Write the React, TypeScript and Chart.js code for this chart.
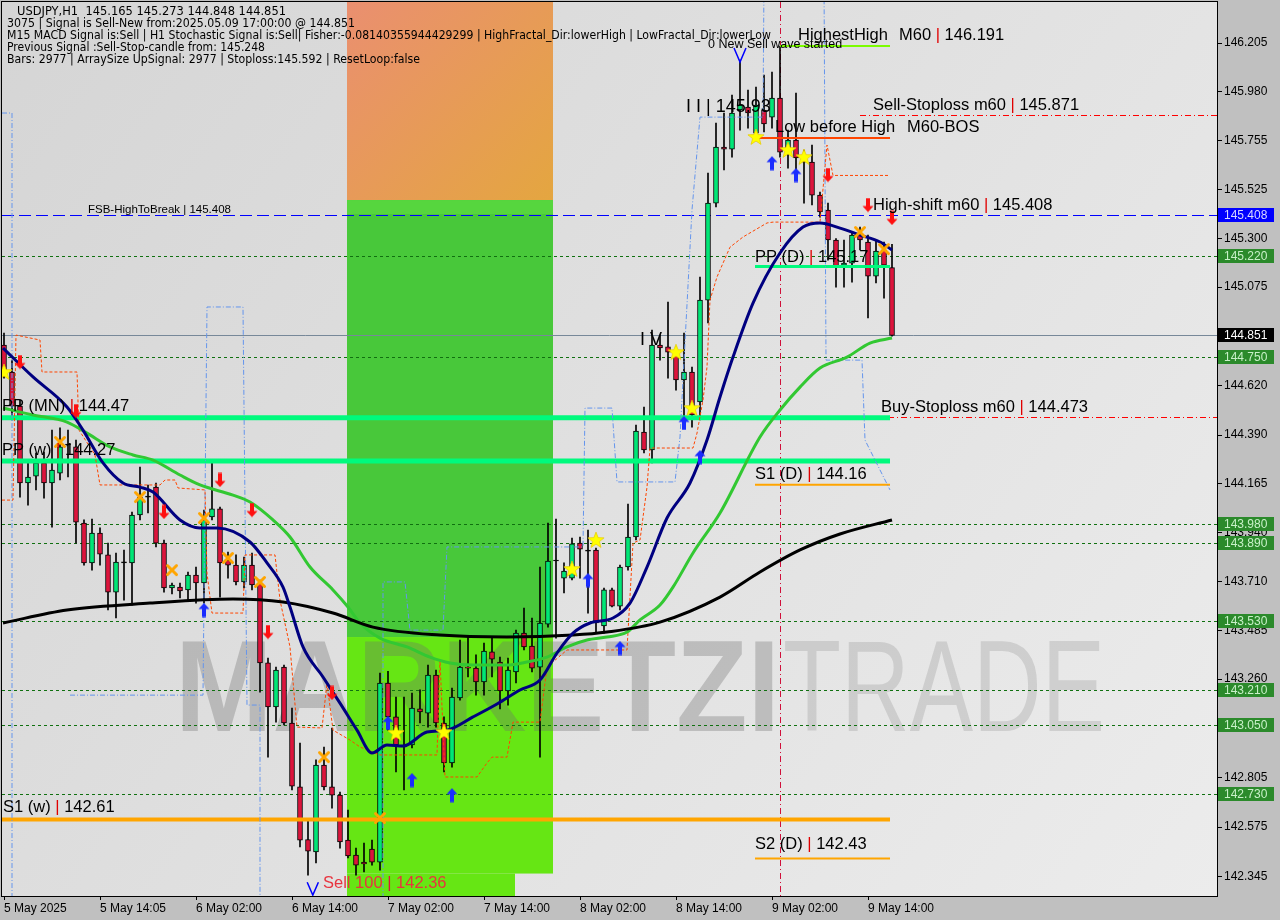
import React, { useEffect, useRef } from "react";
import { Chart, registerables } from "chart.js";

Chart.register(...registerables);

// ---------------- data ----------------
const timeTickIndex = [0, 12, 24, 36, 48, 60, 72, 84, 96, 108];
const timeTickLabels = ["5 May 2025", "5 May 14:05", "6 May 02:00", "6 May 14:00", "7 May 02:00", "7 May 14:00", "8 May 02:00", "8 May 14:00", "9 May 02:00", "9 May 14:00"];
const priceTicks = [146.205, 145.98, 145.755, 145.525, 145.3, 145.075, 144.62, 144.39, 144.165, 143.94, 143.71, 143.485, 143.26, 143.03, 142.805, 142.575, 142.345];

const opens = [
  144.807, 144.682, 144.524, 144.168, 144.2, 144.261, 144.168, 144.214, 144.344, 144.335,
  143.983, 143.798, 143.936, 143.835, 143.663, 143.802, 143.798, 144.02, 144.103, 144.149,
  143.89, 143.682, 143.686, 143.673, 143.742, 143.705, 144.011, 144.048, 143.811, 143.788,
  143.71, 143.788, 143.705, 143.335, 143.131, 143.316, 143.057, 142.761, 142.517, 142.46,
  142.862, 142.761, 142.723, 142.515, 142.446, 142.413, 142.473, 142.413, 143.242, 143.085,
  142.955, 142.955, 143.122, 143.103, 143.279, 143.057, 142.872, 143.173, 143.316, 143.311,
  143.247, 143.386, 143.339, 143.205, 143.293, 143.473, 143.413, 143.316, 143.515, 143.807,
  143.728, 143.728, 143.89, 143.853, 143.858, 143.506, 143.673, 143.598, 143.779, 143.918,
  144.404, 144.321, 144.807, 144.798, 144.774, 144.645, 144.682, 144.543, 145.015, 145.464,
  145.723, 145.714, 145.895, 145.909, 145.788, 145.895, 145.862, 145.95, 145.71, 145.756,
  145.673, 145.654, 145.501, 145.432, 145.293, 145.177, 145.186, 145.316, 145.284, 145.126,
  145.247, 145.165,
];
const highs = [
  144.862, 144.737, 144.552, 144.274, 144.307, 144.311, 144.413, 144.423, 144.413, 144.367,
  143.997, 144.001, 143.96, 143.89, 143.844, 143.858, 144.034, 144.242, 144.159, 144.168,
  143.904, 143.705, 143.705, 143.756, 143.779, 144.043, 144.261, 144.057, 143.848, 143.835,
  143.825, 143.844, 143.719, 143.358, 143.316, 143.325, 143.126, 142.964, 142.608, 142.886,
  142.946, 143.034, 142.737, 142.654, 142.478, 142.501, 142.515, 143.288, 143.296, 143.177,
  143.177, 143.196, 143.21, 143.325, 143.302, 143.085, 143.219, 143.441, 143.455, 143.372,
  143.427, 143.455, 143.362, 143.358, 143.487, 143.589, 143.543, 143.779, 143.983, 144.001,
  143.798, 143.913, 143.918, 143.95, 143.867, 143.682, 143.682, 143.788, 144.071, 144.436,
  144.52, 144.876, 144.853, 145.006, 144.798, 144.862, 144.705, 145.122, 145.603, 145.835,
  145.881, 145.964, 146.126, 145.987, 146.001, 146.057, 146.071, 146.191, 145.802, 145.973,
  145.71, 145.733, 145.515, 145.464, 145.3, 145.293, 145.325, 145.353, 145.316, 145.293,
  145.284, 145.273,
];
const lows = [
  144.654, 144.46, 144.103, 144.066, 144.136, 144.098, 143.964, 144.182, 144.196, 143.89,
  143.788, 143.765, 143.788, 143.58, 143.543, 143.626, 143.603, 143.997, 144.029, 143.872,
  143.663, 143.654, 143.636, 143.626, 143.612, 143.612, 143.997, 143.64, 143.728, 143.696,
  143.682, 143.673, 143.2, 142.899, 143.061, 143.048, 142.747, 142.483, 142.353, 142.409,
  142.747, 142.663, 142.478, 142.432, 142.353, 142.367, 142.399, 142.376, 143.024, 142.83,
  142.747, 142.941, 143.057, 143.038, 143.038, 142.83, 142.853, 143.163, 143.27, 143.186,
  143.186, 143.27, 143.122, 143.14, 143.242, 143.395, 143.293, 142.899, 143.501, 143.45,
  143.659, 143.719, 143.728, 143.566, 143.473, 143.473, 143.594, 143.58, 143.765, 143.904,
  144.307, 144.261, 144.737, 144.654, 144.598, 144.446, 144.427, 144.46, 144.909, 145.446,
  145.617, 145.677, 145.802, 145.811, 145.756, 145.793, 145.811, 145.677, 145.626, 145.617,
  145.464, 145.455, 145.399, 145.2, 145.075, 145.075, 145.098, 145.247, 144.932, 145.094,
  145.024, 144.848,
];
const closes = [
  144.682, 144.524, 144.168, 144.196, 144.261, 144.168, 144.228, 144.335, 144.344, 143.987,
  143.798, 143.936, 143.839, 143.663, 143.802, 143.798, 144.02, 144.103, 144.103, 143.89,
  143.682, 143.696, 143.668, 143.742, 143.705, 143.997, 144.048, 143.798, 143.788, 143.71,
  143.788, 143.696, 143.335, 143.131, 143.302, 143.057, 142.765, 142.515, 142.464, 142.862,
  142.761, 142.723, 142.506, 142.441, 142.399, 142.404, 142.413, 143.242, 143.085, 142.955,
  142.946, 143.126, 143.108, 143.279, 143.057, 142.872, 143.177, 143.316, 143.311, 143.247,
  143.39, 143.353, 143.205, 143.302, 143.473, 143.409, 143.311, 143.52, 143.807, 143.807,
  143.76, 143.886, 143.862, 143.853, 143.52, 143.673, 143.598, 143.779, 143.918, 144.409,
  144.321, 144.807, 144.793, 144.774, 144.645, 144.682, 144.483, 145.015, 145.464, 145.723,
  145.714, 145.881, 145.918, 145.881, 145.918, 145.83, 145.95, 145.7, 145.756, 145.673,
  145.654, 145.501, 145.423, 145.293, 145.168, 145.186, 145.316, 145.293, 145.126, 145.242,
  145.177, 144.851,
];

// moving averages (bar index, price)
const navyMaIdx = [-0.125, 3.625, 7.875, 9.875, 12.375, 14.875, 17, 18.625, 22, 24.5, 26.625, 30.75, 32.875, 34.875, 35.75, 37.375, 39.875, 42, 44.125, 46, 47.875, 49.875, 52.875, 55.375, 58.625, 61.625, 64.5, 67, 69.125, 71.125, 73.25, 76.125, 78.25, 80.375, 82.875, 85.75, 87.875, 89.5, 91.125, 93.625, 97, 99.875, 102, 104.5, 107, 109.5, 111];
const navyMaVal = [144.793, 144.659, 144.52, 144.413, 144.261, 144.168, 144.149, 144.126, 143.997, 143.96, 143.96, 143.895, 143.798, 143.686, 143.594, 143.409, 143.27, 143.149, 143.024, 142.918, 142.955, 142.95, 143.015, 143.024, 143.085, 143.145, 143.21, 143.256, 143.381, 143.473, 143.52, 143.543, 143.612, 143.779, 144.006, 144.168, 144.367, 144.566, 144.751, 145.001, 145.233, 145.353, 145.372, 145.348, 145.316, 145.284, 145.247];
const greenMaIdx = [-0.125, 3.625, 7.875, 10.375, 13.25, 16.125, 18.625, 22, 24.5, 28.625, 30.75, 33.625, 35.75, 38.25, 41.125, 43, 44.5, 47, 50.375, 53.25, 55.75, 58.625, 62.875, 65.375, 67.875, 70.375, 72.875, 75.375, 77.875, 79.5, 82, 83.625, 86.125, 89.5, 94.5, 97, 99.5, 102, 105.375, 108.25, 111];
const greenMaVal = [144.515, 144.483, 144.45, 144.399, 144.335, 144.298, 144.274, 144.205, 144.159, 144.112, 144.08, 143.997, 143.918, 143.779, 143.673, 143.594, 143.52, 143.45, 143.409, 143.362, 143.335, 143.325, 143.325, 143.339, 143.362, 143.409, 143.441, 143.455, 143.478, 143.534, 143.603, 143.686, 143.844, 144.029, 144.381, 144.506, 144.612, 144.7, 144.751, 144.816, 144.839];
const blackMaIdx = [-0.125, 7.875, 18.25, 28.625, 34.875, 41.125, 46.125, 54.5, 62.875, 71.125, 75.375, 82, 89.5, 94.5, 99.5, 104.5, 111];
const blackMaVal = [143.52, 143.58, 143.612, 143.631, 143.617, 143.566, 143.501, 143.464, 143.455, 143.464, 143.478, 143.524, 143.64, 143.756, 143.858, 143.932, 143.997];

// fractal / stop step lines (null = gap)
const redStepIdx = [-0.25, 1.125, 1.5, 4.5, 4.75, 9.125, 9.375, 11.375, 12, 19.5, 20.125, 21.375, 21.75, 25.125, 25.375, 26, 29.875, 30.125, 33.875, 34.5, 35.75, 36.625, 39.75, 40.375, 41.125, 43.25, 44.5, 47, 54.125, 54.5, 55.125, 59.125, 60.375, 61, 62.875, 63.625, 67, 67.875, 70.375, 77.875, 78.625, 79.5, 80.375, 80.75, 86.125, 86.625, 87.375, 87.875, 88.25, 89.125, 90.75, 92.375, 95.375, 96.125, 102, 102.875, 103.625, 110.75];
const redStepVal = [144.089, 144.089, 144.853, 144.83, 144.682, 144.682, 144.413, 144.298, 144.159, 144.159, 144.182, 144.182, 144.145, 144.136, 143.751, 143.566, 143.566, 143.835, 143.835, 143.626, 143.409, 143.038, 143.034, 143.242, 143.024, 142.978, 142.946, 142.909, 142.909, 143.348, 142.807, 142.807, 142.872, 142.899, 142.899, 143.061, 143.061, 143.316, 143.395, 143.395, 143.89, 143.904, 144.149, 144.33, 144.33, 144.399, 144.552, 144.705, 145.015, 145.122, 145.26, 145.307, 145.372, 145.376, 145.376, 145.733, 145.592, 145.592];
const blueStepIdx = [-0.25, 1, 1, 1.5, 8.25, 24.875, 25.375, 29.875, 30.375, 32, 32, 40, 47.375, 47.375, 50.125, 50.75, 54.875, 55.375, 72.375, 72.625, 76, 76.625, 83.875, 84.5, 86, 87, 94.875, 95, 99, 102.5, 102.75, 107.25, 107.625, 110.75];
const blueStepVal = [145.881, 145.881, 142.2, null, 143.186, 143.186, 144.983, 144.983, 143.14, 143.14, 142.2, null, 142.2, 143.71, 143.71, 143.487, 143.487, 143.872, 143.872, 144.515, 144.515, 144.173, 144.173, 144.381, 145.432, 145.862, 145.862, 146.5, null, 146.5, 144.737, 144.737, 144.367, 144.136];

// signal markers
const starIdx = [0, 49, 55, 71, 74, 84, 86, 94, 98, 100];
const starVal = [144.682, 143.011, 143.015, 143.77, 143.904, 144.774, 144.515, 145.77, 145.71, 145.677];
const crossIdx = [7, 17, 21, 25, 28, 32, 40, 47, 107, 110];
const crossVal = [144.358, 144.103, 143.765, 144.006, 143.821, 143.71, 142.899, 142.617, 145.33, 145.251];
const upIdx = [25, 48, 51, 56, 73, 77, 85, 87, 96, 99];
const upVal = [143.58, 143.057, 142.793, 142.723, 143.719, 143.404, 144.446, 144.288, 145.649, 145.594];
const downIdx = [2, 9, 20, 27, 31, 33, 41, 103, 108, 111];
const downVal = [144.728, 144.501, 144.034, 144.182, 144.043, 143.478, 143.196, 145.594, 145.455, 145.395];

// levels
const dottedLevels = [145.22, 144.75, 143.98, 143.89, 143.53, 143.21, 143.05, 142.73];
const fsbLevel = 145.408;
const currentPrice = 144.851;
const ppMonth = 144.47;
const ppWeek = 144.27;
const s1Week = 142.61;
const ppDay = 145.17;
const s1Day = 144.16;
const s2Day = 142.43;
const highestHigh = 146.191;
const lowBeforeHigh = 145.765;
const sellStoploss = 145.871;
const buyStoploss = 144.473;
const signalBarIdx = 97;
const zoneStartIdx = 42.875;
const zoneEndIdx = 68.625;
const zoneLabelEndIdx = 63.875;
const zoneTop = 145.478;
const zoneMid = 143.455;
const sellLevel = 142.36;

const headerLines = [
  "USDJPY,H1  145.165 145.273 144.848 144.851",
  "3075 | Signal is Sell-New from:2025.05.09 17:00:00 @ 144.851",
  "M15 MACD Signal is:Sell | H1 Stochastic Signal is:Sell| Fisher:-0.08140355944429299 | HighFractal_Dir:lowerHigh | LowFractal_Dir:lowerLow",
  "Previous Signal :Sell-Stop-candle from: 145.248",
  "Bars: 2977 | ArraySize UpSignal: 2977 | Stoploss:145.592 | ResetLoop:false",
];

const axisTags = [
  { p: 145.408, bg: "#0000ff", fg: "#d8d8ff" },
  { p: 145.22, bg: "#2b8a2b", fg: "#c8f0c8" },
  { p: 144.851, bg: "#000000", fg: "#ffffff" },
  { p: 144.75, bg: "#2b8a2b", fg: "#c8f0c8" },
  { p: 143.98, bg: "#2b8a2b", fg: "#c8f0c8" },
  { p: 143.89, bg: "#2b8a2b", fg: "#c8f0c8" },
  { p: 143.53, bg: "#2b8a2b", fg: "#c8f0c8" },
  { p: 143.21, bg: "#2b8a2b", fg: "#c8f0c8" },
  { p: 143.05, bg: "#2b8a2b", fg: "#c8f0c8" },
  { p: 142.73, bg: "#2b8a2b", fg: "#c8f0c8" },
];

const RED_PIPE = "#e00000";
const textLabels = [
  { t: "FSB-HighToBreak | 145.408", i: 10.5, p: 145.418, s: 11.5, c: "#000", pc: "#000" },
  { t: "PP (MN) | 144.47", i: -0.25, p: 144.501, s: 16.5, c: "#000", pc: RED_PIPE },
  { t: "PP (w) | 144.27", i: -0.25, p: 144.298, s: 16.5, c: "#000", pc: RED_PIPE },
  { t: "S1 (w) | 142.61", i: -0.125, p: 142.645, s: 16.5, c: "#000", pc: RED_PIPE },
  { t: "PP (D) | 145.17", i: 93.875, p: 145.191, s: 16.5, c: "#000", pc: RED_PIPE },
  { t: "S1 (D) | 144.16", i: 93.875, p: 144.186, s: 16.5, c: "#000", pc: RED_PIPE },
  { t: "S2 (D) | 142.43", i: 93.875, p: 142.473, s: 16.5, c: "#000", pc: RED_PIPE },
  { t: "Sell-Stoploss m60 | 145.871", i: 108.625, p: 145.895, s: 16.5, c: "#000", pc: RED_PIPE },
  { t: "Buy-Stoploss m60 | 144.473", i: 109.625, p: 144.497, s: 16.5, c: "#000", pc: RED_PIPE },
  { t: "High-shift m60 | 145.408", i: 108.625, p: 145.432, s: 16.5, c: "#000", pc: RED_PIPE },
  { t: "Low before High", i: 96.375, p: 145.793, s: 16.5, c: "#000", pc: "#000" },
  { t: "M60-BOS", i: 112.875, p: 145.793, s: 16.5, c: "#000", pc: "#000" },
  { t: "HighestHigh", i: 99.25, p: 146.219, s: 16.5, c: "#000", pc: "#000" },
  { t: "M60 | 146.191", i: 111.875, p: 146.219, s: 16.5, c: "#000", pc: RED_PIPE },
  { t: "I I | 145.93", i: 85.25, p: 145.885, s: 18, c: "#000", pc: "#000" },
  { t: "I V", i: 79.5, p: 144.807, s: 18, c: "#000", pc: "#000" },
  { t: "0 New Sell wave started", i: 88, p: 146.182, s: 12.5, c: "#000", pc: "#000" },
  { t: "Sell 100 | 142.36", i: 39.875, p: 142.293, s: 16.5, c: "#e8343f", pc: "#dc143c" },
];

// ---------------- marker images ----------------
function makeStar() {
  const c = document.createElement("canvas");
  c.width = 18; c.height = 18;
  const g = c.getContext("2d")!;
  g.beginPath();
  for (let k = 0; k < 10; k++) {
    const r = k % 2 === 0 ? 8.5 : 3.6;
    const a = -Math.PI / 2 + (k * Math.PI) / 5;
    const px = 9 + r * Math.cos(a), py = 9.5 + r * Math.sin(a);
    if (k === 0) g.moveTo(px, py); else g.lineTo(px, py);
  }
  g.closePath();
  g.fillStyle = "#ffff00";
  g.fill();
  g.strokeStyle = "#e6c800";
  g.lineWidth = 0.7;
  g.stroke();
  return c;
}
function makeCross() {
  const c = document.createElement("canvas");
  c.width = 14; c.height = 14;
  const g = c.getContext("2d")!;
  g.strokeStyle = "#ffa500";
  g.lineWidth = 3;
  g.lineCap = "round";
  g.beginPath();
  g.moveTo(2.5, 2.5); g.lineTo(11.5, 11.5);
  g.moveTo(11.5, 2.5); g.lineTo(2.5, 11.5);
  g.stroke();
  return c;
}
function makeArrow(color: string, up: boolean) {
  const c = document.createElement("canvas");
  c.width = 12; c.height = 15;
  const g = c.getContext("2d")!;
  g.save();
  if (!up) { g.translate(0, 15); g.scale(1, -1); }
  g.fillStyle = color;
  g.beginPath();
  g.moveTo(6, 0.5); g.lineTo(11.5, 6.5); g.lineTo(8, 6.5); g.lineTo(8, 14.5);
  g.lineTo(4, 14.5); g.lineTo(4, 6.5); g.lineTo(0.5, 6.5); g.closePath();
  g.fill();
  g.restore();
  return c;
}

function drawPipeText(ctx: CanvasRenderingContext2D, text: string, x: number, y: number, color: string, pipe: string) {
  const parts = text.split("|");
  let cx = x;
  parts.forEach((part, k) => {
    if (k > 0) {
      ctx.fillStyle = pipe;
      ctx.fillText("|", cx, y);
      cx += ctx.measureText("|").width;
    }
    ctx.fillStyle = color;
    ctx.fillText(part, cx, y);
    cx += ctx.measureText(part).width;
  });
}

const decorPlugin = {
  id: "mt4decor",
  beforeDraw(chart: any) {
    const { ctx, chartArea: a, width, height } = chart;
    ctx.save();
    ctx.fillStyle = "#c0c0c0";
    ctx.fillRect(0, 0, width, height);
    const g = ctx.createLinearGradient(a.left, a.top, a.right, a.bottom);
    g.addColorStop(0, "#d5d5d5");
    g.addColorStop(1, "#ececec");
    ctx.fillStyle = g;
    ctx.fillRect(a.left, a.top, a.right - a.left, a.bottom - a.top);
    ctx.restore();
  },
  beforeDatasetsDraw(chart: any) {
    const { ctx, chartArea: a } = chart;
    const X = (v: number) => chart.scales.x.getPixelForValue(v);
    const Y = (v: number) => chart.scales.y.getPixelForValue(v);
    ctx.save();
    ctx.beginPath();
    ctx.rect(a.left, a.top, a.right - a.left, a.bottom - a.top);
    ctx.clip();
    // signal zones
    const x0 = X(zoneStartIdx), x1 = X(zoneEndIdx), x2 = X(zoneLabelEndIdx);
    const og = ctx.createLinearGradient(x0, a.top, x1, Y(zoneTop));
    og.addColorStop(0, "#ea8f70");
    og.addColorStop(1, "#e4a640");
    ctx.fillStyle = og;
    ctx.fillRect(x0, a.top, x1 - x0, Y(zoneTop) - a.top);
    ctx.fillStyle = "#48c83a";
    ctx.fillRect(x0, Y(zoneTop), x1 - x0, Y(zoneMid) - Y(zoneTop));
    ctx.fillStyle = "#56d63e";
    ctx.fillRect(x0, Y(zoneTop), x1 - x0, 14);
    ctx.fillStyle = "#66e614";
    ctx.fillRect(x0, Y(zoneMid), x1 - x0, Y(sellLevel) - Y(zoneMid));
    ctx.fillRect(x0, Y(sellLevel), x2 - x0, a.bottom - Y(sellLevel));
    // watermark
    ctx.textBaseline = "alphabetic";
    ctx.textAlign = "left";
    ctx.font = 'bold 130px "Liberation Sans"';
    ctx.fillStyle = "rgba(110,110,110,0.33)";
    ctx.fillText("MARKETZI", 175, 731, 605);
    ctx.font = '130px "Liberation Sans"';
    ctx.fillStyle = "rgba(130,130,130,0.25)";
    ctx.fillText("TRADE", 783, 731, 322);
    // dotted levels
    ctx.lineWidth = 1;
    ctx.setLineDash([3, 3]);
    ctx.strokeStyle = "#107010";
    dottedLevels.forEach((p) => {
      const y = Math.round(Y(p)) + 0.5;
      ctx.beginPath(); ctx.moveTo(a.left, y); ctx.lineTo(a.right, y); ctx.stroke();
    });
    // FSB line
    ctx.setLineDash([12, 5]);
    ctx.strokeStyle = "#0000ff";
    let y = Math.round(Y(fsbLevel)) + 0.5;
    ctx.beginPath(); ctx.moveTo(a.left, y); ctx.lineTo(a.right, y); ctx.stroke();
    // current price
    ctx.setLineDash([]);
    ctx.strokeStyle = "#778899";
    y = Math.round(Y(currentPrice)) + 0.5;
    ctx.beginPath(); ctx.moveTo(a.left, y); ctx.lineTo(a.right, y); ctx.stroke();
    // signal bar vertical line
    ctx.setLineDash([6, 3, 1, 3]);
    ctx.strokeStyle = "#d0103a";
    const vx = Math.round(X(signalBarIdx)) + 0.5;
    ctx.beginPath(); ctx.moveTo(vx, a.top); ctx.lineTo(vx, a.bottom); ctx.stroke();
    // stoploss lines
    ctx.strokeStyle = "#ff0000";
    y = Math.round(Y(sellStoploss)) + 0.5;
    ctx.beginPath(); ctx.moveTo(X(107), y); ctx.lineTo(a.right, y); ctx.stroke();
    y = Math.round(Y(buyStoploss)) + 0.5;
    ctx.beginPath(); ctx.moveTo(X(107.25), y); ctx.lineTo(a.right, y); ctx.stroke();
    ctx.restore();
  },
  afterDatasetDraw(chart: any, args: any) {
    if (args.index !== 1) return;
    const { ctx, chartArea: a } = chart;
    const X = (v: number) => chart.scales.x.getPixelForValue(v);
    const Y = (v: number) => chart.scales.y.getPixelForValue(v);
    const end = X(110.75);
    const seg = (p: number, from: number, color: string, w: number) => {
      ctx.strokeStyle = color;
      ctx.lineWidth = w;
      ctx.beginPath(); ctx.moveTo(from, Y(p)); ctx.lineTo(end, Y(p)); ctx.stroke();
    };
    ctx.save();
    ctx.beginPath();
    ctx.rect(a.left, a.top, a.right - a.left, a.bottom - a.top);
    ctx.clip();
    seg(ppMonth, a.left, "#00fa7d", 5);
    seg(ppWeek, a.left, "#00fa7d", 5);
    seg(s1Week, a.left, "#ffa500", 4);
    seg(ppDay, X(93.875), "#00fa7d", 3);
    seg(s1Day, X(93.875), "#ffa500", 2);
    seg(s2Day, X(93.875), "#ffa500", 2);
    seg(highestHigh, X(97), "#7cfc00", 2);
    seg(lowBeforeHigh, X(94.125), "#ff4500", 2);
    ctx.restore();
  },
  afterDatasetsDraw(chart: any) {
    const { ctx, chartArea: a } = chart;
    const X = (v: number) => chart.scales.x.getPixelForValue(v);
    const Y = (v: number) => chart.scales.y.getPixelForValue(v);
    ctx.save();
    ctx.beginPath();
    ctx.rect(a.left, a.top, a.right - a.left, a.bottom - a.top);
    ctx.clip();
    ctx.textBaseline = "alphabetic";
    ctx.textAlign = "left";
    textLabels.forEach((l) => {
      ctx.font = `${l.s}px "Liberation Sans"`;
      drawPipeText(ctx, l.t, X(l.i), Y(l.p), l.c, l.pc);
    });
    // fractal V marks
    ctx.strokeStyle = "#0000ff";
    ctx.lineWidth = 1.5;
    ctx.beginPath();
    ctx.moveTo(X(91.25), Y(146.182)); ctx.lineTo(X(92), Y(146.117)); ctx.lineTo(X(92.75), Y(146.182));
    ctx.moveTo(X(37.9), Y(142.32)); ctx.lineTo(X(38.6), Y(142.26)); ctx.lineTo(X(39.3), Y(142.32));
    ctx.stroke();
    ctx.restore();
  },
  afterDraw(chart: any) {
    const { ctx, chartArea: a } = chart;
    const Y = (v: number) => chart.scales.y.getPixelForValue(v);
    ctx.save();
    // frame
    ctx.strokeStyle = "#000";
    ctx.lineWidth = 1;
    ctx.setLineDash([]);
    ctx.strokeRect(a.left - 0.5, a.top - 0.5, a.right - a.left + 1, a.bottom - a.top + 1);
    // axis tags
    ctx.font = '12px "Liberation Sans"';
    ctx.textBaseline = "middle";
    ctx.textAlign = "left";
    axisTags.forEach((t) => {
      const y = Math.round(Y(t.p));
      ctx.fillStyle = t.bg;
      ctx.fillRect(a.right + 1, y - 7, 56, 14);
      ctx.fillStyle = t.fg;
      ctx.fillText(t.p.toFixed(3), a.right + 7, y + 0.5);
    });
    // header
    ctx.fillStyle = "#000";
    ctx.textBaseline = "middle";
    ctx.font = '11.5px "DejaVu Sans"';
    const hx = [17, 7, 7, 7, 7];
    const hw = [269, 348, 764, 258, 413];
    headerLines.forEach((t, k) => {
      ctx.fillText(t, hx[k], 12 + 12 * k, hw[k]);
    });
    ctx.restore();
  },
};

export default function App() {
  const ref = useRef<HTMLCanvasElement>(null);
  useEffect(() => {
    document.body.style.margin = "0";
    const star = makeStar();
    const cross = makeCross();
    const upArrow = makeArrow("#1a2cff", true);
    const downArrow = makeArrow("#ff1010", false);
    const n = opens.length;
    const idx = Array.from({ length: n }, (_, i) => i);
    const bodyColors = idx.map((i) =>
      Math.abs(closes[i] - opens[i]) < 0.004 ? "#000000" : closes[i] > opens[i] ? "#00e676" : "#dc143c"
    );
    const pts = (xs: number[], ys: (number | null)[]) => xs.map((x, k) => ({ x, y: ys[k] }));
    const markerSet = (xs: number[], ys: number[], img: HTMLCanvasElement) => ({
      type: "line" as const,
      data: pts(xs, ys),
      showLine: false,
      pointStyle: img,
      pointRadius: 6,
      order: 1,
    });

    const chart = new Chart(ref.current!, {
      type: "bar",
      data: {
        datasets: [
          {
            type: "bar",
            data: idx.map((i) => ({ x: i, y: [lows[i], highs[i]] })),
            backgroundColor: "#000000",
            barThickness: 1,
            grouped: false,
            order: 20,
          } as any,
          {
            type: "bar",
            data: idx.map((i) => ({ x: i, y: [opens[i], closes[i]] })),
            backgroundColor: bodyColors,
            borderColor: "#000000",
            borderWidth: 1,
            borderSkipped: false,
            barThickness: 5,
            minBarLength: 1,
            grouped: false,
            order: 19,
          } as any,
          {
            type: "line",
            data: pts(redStepIdx, redStepVal),
            borderColor: "#ff4500",
            borderWidth: 1,
            borderDash: [3, 2],
            pointRadius: 0,
            spanGaps: false,
            order: 15,
          },
          {
            type: "line",
            data: pts(blueStepIdx, blueStepVal),
            borderColor: "#6495ed",
            borderWidth: 1,
            borderDash: [5, 2, 1, 2],
            pointRadius: 0,
            spanGaps: false,
            order: 15,
          },
          {
            type: "line",
            data: pts(blackMaIdx, blackMaVal),
            borderColor: "#000000",
            borderWidth: 3,
            pointRadius: 0,
            cubicInterpolationMode: "monotone",
            order: 10,
          },
          {
            type: "line",
            data: pts(greenMaIdx, greenMaVal),
            borderColor: "#32c832",
            borderWidth: 3,
            pointRadius: 0,
            cubicInterpolationMode: "monotone",
            order: 10,
          },
          {
            type: "line",
            data: pts(navyMaIdx, navyMaVal),
            borderColor: "#000080",
            borderWidth: 3,
            pointRadius: 0,
            cubicInterpolationMode: "monotone",
            order: 9,
          },
          markerSet(starIdx, starVal, star),
          markerSet(crossIdx, crossVal, cross),
          markerSet(upIdx, upVal, upArrow),
          markerSet(downIdx, downVal, downArrow),
        ] as any,
      },
      options: {
        responsive: false,
        animation: false,
        devicePixelRatio: 1,
        events: [],
        layout: { autoPadding: false, padding: { left: 2, top: 2, right: 0, bottom: 0 } },
        plugins: { legend: { display: false }, tooltip: { enabled: false } },
        scales: {
          x: {
            type: "linear",
            min: -0.25,
            max: 151.625,
            offset: false,
            afterBuildTicks: (s: any) => {
              s.ticks = timeTickIndex.map((v) => ({ value: v }));
            },
            afterFit: (s: any) => {
              s.height = 24;
              s.paddingLeft = 0;
              s.paddingRight = 0;
            },
            ticks: {
              callback: (v: any) => {
                const k = timeTickIndex.indexOf(Number(v));
                return k >= 0 ? timeTickLabels[k] : "";
              },
              align: "start",
              autoSkip: false,
              maxRotation: 0,
              minRotation: 0,
              padding: 1,
              color: "#000",
              font: { family: "Liberation Sans", size: 12 },
            },
            grid: { drawOnChartArea: false, drawTicks: true, tickLength: 4, tickColor: "#000", offset: false },
            border: { display: true, color: "#000" },
          },
          y: {
            type: "linear",
            position: "right",
            min: 142.256,
            max: 146.395,
            beginAtZero: false,
            afterBuildTicks: (s: any) => {
              s.ticks = priceTicks.map((v) => ({ value: v }));
            },
            afterFit: (s: any) => {
              s.width = 63;
              s.paddingTop = 0;
              s.paddingBottom = 0;
            },
            ticks: {
              callback: (v: any) => Number(v).toFixed(3),
              padding: 2,
              color: "#000",
              autoSkip: false,
              font: { family: "Liberation Sans", size: 12 },
            },
            grid: { drawOnChartArea: false, drawTicks: true, tickLength: 5, tickColor: "#000" },
            border: { display: true, color: "#000" },
          },
        },
      } as any,
      plugins: [decorPlugin],
    });
    return () => chart.destroy();
  }, []);
  return (
    <div style={{ position: "absolute", left: 0, top: 0, width: 1280, height: 920 }}>
      <canvas ref={ref} width={1280} height={920} style={{ width: 1280, height: 920, display: "block" }} />
    </div>
  );
}
